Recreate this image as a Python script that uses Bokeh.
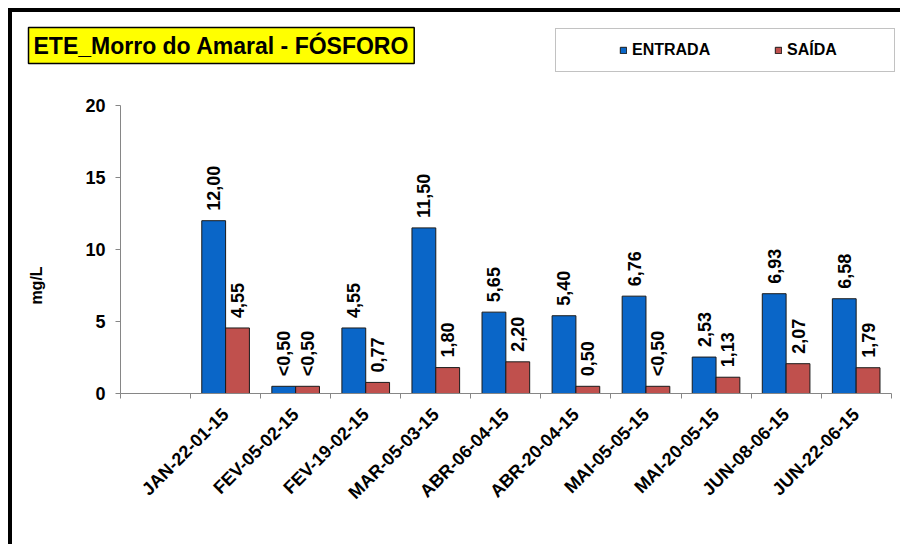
from math import pi
from bokeh.plotting import figure
from bokeh.models import (FixedTicker, Label, LabelSet, Legend, LegendItem,
                          ColumnDataSource, Range1d)
from bokeh.core.properties import value
from bokeh.transform import dodge
from bokeh.embed import file_html
from bokeh.resources import INLINE

# ---- data -------------------------------------------------------------
categories = ["", "JAN-22-01-15", "FEV-05-02-15", "FEV-19-02-15", "MAR-05-03-15",
              "ABR-06-04-15", "ABR-20-04-15", "MAI-05-05-15", "MAI-20-05-15",
              "JUN-08-06-15", "JUN-22-06-15"]
entrada = [12.00, 0.50, 4.55, 11.50, 5.65, 5.40, 6.76, 2.53, 6.93, 6.58]
saida = [4.55, 0.50, 0.77, 1.80, 2.20, 0.50, 0.50, 1.13, 2.07, 1.79]
entrada_labels = ["12,00", "<0,50", "4,55", "11,50", "5,65", "5,40", "6,76", "2,53", "6,93", "6,58"]
saida_labels = ["4,55", "<0,50", "0,77", "1,80", "2,20", "0,50", "<0,50", "1,13", "2,07", "1,79"]
y_ticks = [0, 5, 10, 15, 20]
series_names = ["ENTRADA", "SAÍDA"]
title_text = "ETE_Morro do Amaral - FÓSFORO"
y_title = "mg/L"

FONT = "Liberation Sans"
BLUE = "#0A66C8"
RED = "#C0504D"
GREY = "#868686"

# ---- layout (pixels) ----------------------------------------------------
W, H = 892, 536              # canvas size
CAT_PX = 70.06               # pixels per category
UNIT_PX = 14.4               # pixels per y unit
AX_LEFT, AX_RIGHT = 108, 878.7   # canvas x of category range ends
Y0_PX = 381                  # canvas y of value 0 (from top)

n = len(categories)
x_start = -0.5 - AX_LEFT / CAT_PX
x_end = n - 0.5 + (W - AX_RIGHT) / CAT_PX
y_end = y_ticks[-1] + (Y0_PX - y_ticks[-1] * UNIT_PX) / UNIT_PX
y_start = -(H - Y0_PX) / UNIT_PX

xs = list(range(1, n))
src = ColumnDataSource(dict(x=xs, entrada=entrada, saida=saida,
                            elab=entrada_labels, slab=saida_labels))

p = figure(width=W, height=H, title=None,
           x_range=Range1d(x_start, x_end), y_range=Range1d(y_start, y_end),
           output_backend="svg", toolbar_location=None,
           min_border_left=0, min_border_top=0,
           min_border_right=0, min_border_bottom=0)
p.styles = {"margin-left": "8px", "margin-top": "8px",
            "border-top": "4px solid black", "border-left": "4px solid black"}
p.outline_line_color = None
p.xgrid.visible = False
p.ygrid.visible = False
p.background_fill_color = "white"
p.border_fill_color = "white"

bw = 0.34
r1 = p.vbar(x=dodge("x", -bw / 2), top="entrada", width=bw, source=src,
            fill_color=BLUE, line_color="#1a1a1a", line_width=1)
r2 = p.vbar(x=dodge("x", bw / 2), top="saida", width=bw, source=src,
            fill_color=RED, line_color="#1a1a1a", line_width=1)

for col, lab, off in (("entrada", "elab", -bw / 2), ("saida", "slab", bw / 2)):
    p.add_layout(LabelSet(x=dodge("x", off), y=col, text=lab, source=src,
                          angle=pi / 2, text_align="left", text_baseline="middle",
                          y_offset=10, text_font=value(FONT), text_font_style="bold",
                          text_font_size="18px", text_color="black"))

# y axis
ya = p.yaxis[0]
ya.fixed_location = -0.5
ya.bounds = (y_ticks[0], y_ticks[-1])
ya.ticker = FixedTicker(ticks=y_ticks)
ya.axis_line_color = GREY
ya.major_tick_line_color = GREY
ya.major_tick_out = 5
ya.major_tick_in = 0
ya.minor_tick_out = 0
ya.minor_tick_in = 0
ya.major_label_standoff = 10
ya.major_label_text_font = FONT
ya.major_label_text_font_style = "bold"
ya.major_label_text_font_size = "18px"
ya.major_label_text_color = "black"

# x axis
xa = p.xaxis[0]
xa.fixed_location = 0
xa.bounds = (-0.5, n - 0.5)
xa.ticker = FixedTicker(ticks=xs, minor_ticks=[i - 0.5 for i in range(n + 1)])
xa.major_label_overrides = {i: categories[i] for i in xs}
xa.axis_line_color = GREY
xa.major_tick_out = 0
xa.major_tick_in = 0
xa.minor_tick_line_color = GREY
xa.minor_tick_out = 5
xa.minor_tick_in = 0
xa.major_label_orientation = pi / 4
xa.major_label_standoff = 13
xa.major_label_text_font = FONT
xa.major_label_text_font_style = "bold"
xa.major_label_text_font_size = "18px"
xa.major_label_text_color = "black"

# y title
p.add_layout(Label(x=24, y=263, x_units="screen", y_units="screen", text=y_title,
                   angle=pi / 2, text_align="center", text_baseline="middle",
                   text_font=FONT, text_font_style="bold", text_font_size="16px",
                   text_color="black"))

# chart title box
p.add_layout(Label(x=16, y=503, x_units="screen", y_units="screen", text=title_text,
                   text_align="left", text_baseline="middle",
                   text_font=FONT, text_font_style="bold", text_font_size="23px",
                   text_color="black",
                   background_fill_color="#FFFF00", border_line_color="black",
                   border_line_width=1.5, padding=5))

legend = Legend(items=[LegendItem(label=series_names[0], renderers=[r1]),
                       LegendItem(label=series_names[1], renderers=[r2])],
                location=(543, 476), orientation="horizontal",
                title=" ", title_location="left", title_text_font_size="1px",
                title_standoff=50,
                padding=12, spacing=47, label_width=95, label_standoff=5,
                glyph_width=8, glyph_height=8,
                label_text_font=FONT, label_text_font_style="bold",
                label_text_font_size="16px", label_text_color="black",
                border_line_color=GREY, border_line_width=1.5,
                background_fill_color="white", background_fill_alpha=1.0)
p.add_layout(legend)

open("out.html", "w").write(file_html(p, INLINE))
